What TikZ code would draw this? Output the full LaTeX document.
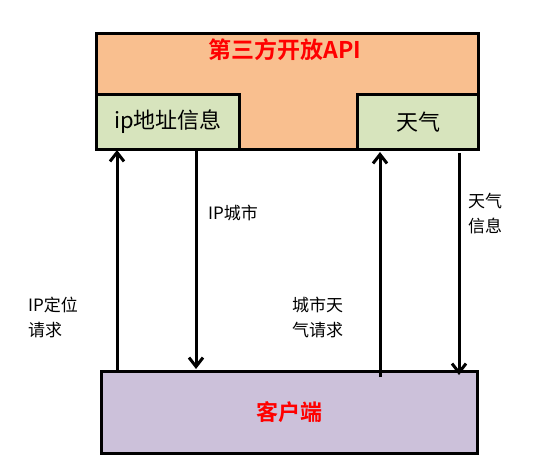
\documentclass[tikz,border=0pt]{standalone}
\usepackage{fontspec}
\setmainfont{Noto Sans CJK SC}
\newfontfamily\cjkb{Noto Sans CJK SC Bold}
\usetikzlibrary{arrows.meta}
\definecolor{apiorange}{HTML}{F9BF8F}
\definecolor{subgreen}{HTML}{D7E4BD}
\definecolor{clientpurple}{HTML}{CCC1DA}
\begin{document}
\begin{tikzpicture}[x=1pt,y=-1pt,
  box/.style={draw=black,line width=3pt,inner sep=0pt,anchor=north west},
  lbl/.style={font=\fontsize{17}{25}\selectfont,align=left,anchor=north west,inner sep=0pt},
  flow/.style={line width=3pt,-{Straight Barb[length=9pt,width=14pt,line width=3pt]}}]
\useasboundingbox (0,0) rectangle (535,473);
\node[box,fill=apiorange,minimum width=382pt,minimum height=116pt] (api) at (95,32) {};
\node[font=\cjkb\fontsize{23}{26}\selectfont,text=red] (apit) at (285,50) {第三方开放API};
\node[box,fill=subgreen,minimum width=143pt,minimum height=55pt,font=\fontsize{22}{26}\selectfont] (ip) at (95,93) {ip地址信息};
\node[box,fill=subgreen,minimum width=121pt,minimum height=55pt,font=\fontsize{22}{26}\selectfont] (wx) at (356,93) {天气};
\node[box,fill=clientpurple,minimum width=376pt,minimum height=82pt,font=\cjkb\fontsize{22}{26}\selectfont,text=red] (cl) at (100,370) {客户端};
\coordinate (a1s) at (117,370); \coordinate (a1e) at (117,150);
\coordinate (a2s) at (196,149); \coordinate (a2e) at (196,369);
\coordinate (a3s) at (380,377); \coordinate (a3e) at (380,152);
\coordinate (a4s) at (459,153); \coordinate (a4e) at (459,375);
\draw[flow] (a1s) -- (a1e);
\draw[flow] (a2s) -- (a2e);
\draw[flow] (a3s) -- (a3e);
\draw[flow] (a4s) -- (a4e);
\node[lbl] (l1) at (28,297) {IP定位\\请求};
\node[lbl] (l2) at (208,205) {IP城市};
\node[lbl] (l3) at (292,297) {城市天\\气请求};
\node[lbl] (l4) at (468,193) {天气\\信息};
\end{tikzpicture}
\end{document}
